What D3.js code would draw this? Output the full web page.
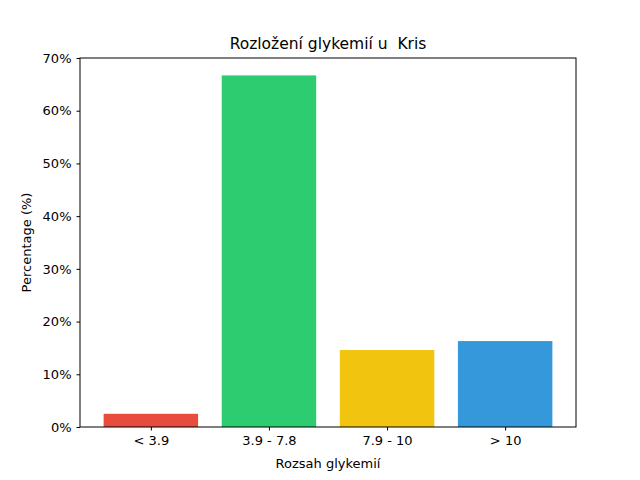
<!DOCTYPE html>
<html><head><meta charset="utf-8">
<script src="https://cdn.jsdelivr.net/npm/d3@7"></script>
<style>body{margin:0;background:#fff}text{font-family:"DejaVu Sans",sans-serif}</style>
</head><body><svg id="chart" width="640" height="480"></svg>
<script>
const categories = ["< 3.9", "3.9 - 7.8", "7.9 - 10", "> 10"];
const percentages = [2.5, 66.7, 14.6, 16.3];
const colors = ["#e74c3c", "#2ecc71", "#f1c40f", "#3498db"];
const yTicks = [0, 10, 20, 30, 40, 50, 60, 70];

const svg = d3.select("#chart");
const plotLeft = 80, plotRight = 576, plotTop = 58, plotBottom = 427;

const x = d3.scaleLinear().domain([-0.6, categories.length - 0.4]).range([plotLeft, plotRight]);
const y = d3.scaleLinear().domain([0, 70]).range([plotBottom, plotTop]);
const barW = x(0.8) - x(0);

svg.selectAll("rect.bar").data(percentages).enter().append("rect")
  .attr("x", (d, i) => x(i - 0.4))
  .attr("y", d => y(d))
  .attr("width", barW)
  .attr("height", d => y(0) - y(d))
  .attr("fill", (d, i) => colors[i]);

const xAxis = svg.append("g").attr("transform", `translate(0,${plotBottom})`)
  .call(d3.axisBottom(x).tickValues(d3.range(categories.length)).tickFormat(i => categories[i]).tickSizeOuter(0).tickSize(3.5).tickPadding(5));
const yAxis = svg.append("g").attr("transform", `translate(${plotLeft},0)`)
  .call(d3.axisLeft(y).tickValues(yTicks).tickFormat(d => d + "%").tickSizeOuter(0).tickSize(3.5).tickPadding(5));
[xAxis, yAxis].forEach(a => {
  a.select(".domain").remove();
  a.selectAll("text").attr("font-size", 13).attr("fill", "#000");
  a.selectAll("line").attr("stroke", "#000");
});

svg.append("rect").attr("x", plotLeft).attr("y", plotTop).attr("width", plotRight - plotLeft).attr("height", plotBottom - plotTop)
  .attr("fill", "none").attr("stroke", "#000").attr("stroke-width", 1);

svg.append("text").attr("x", (plotLeft + plotRight) / 2).attr("y", 49).attr("text-anchor", "middle")
  .attr("font-size", 15.5).attr("xml:space", "preserve").text("Rozložení glykemií u  Kris");
svg.append("text").attr("x", (plotLeft + plotRight) / 2).attr("y", 468).attr("text-anchor", "middle")
  .attr("font-size", 13).text("Rozsah glykemií");
svg.append("text").attr("transform", `translate(31,${(plotTop + plotBottom) / 2}) rotate(-90)`).attr("text-anchor", "middle")
  .attr("font-size", 13).text("Percentage (%)");
</script></body></html>
